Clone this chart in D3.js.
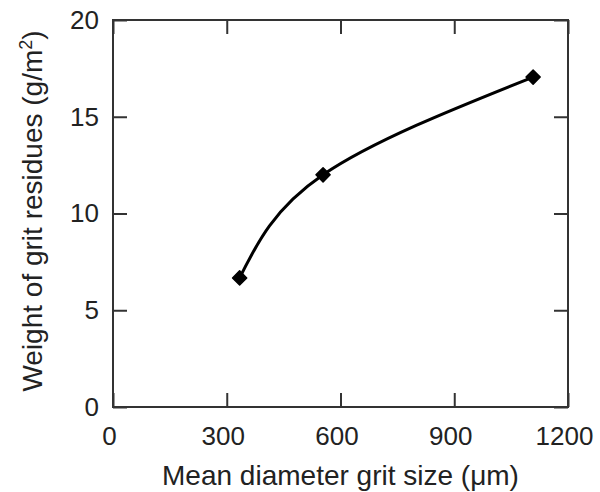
<html>
<head><meta charset="utf-8"/></head>
<script src='https://d3js.org/d3.v7.min.js'></script>
<style>
  body {margin: 0; background: #fff;}
  text {font-family: "Liberation Sans", Arial, sans-serif; fill: #222;}
</style>
<body>
<svg width=600 height=492></svg>
<script>
// grit size (um) vs weight of residues (g/m2)
var gritSize = [334, 554, 1108];
var residue = [6.67, 12.0, 17.05];
var xTicks = [0, 300, 600, 900, 1200];
var yTicks = [0, 5, 10, 15, 20];

var mLeft = 113, mRight = 568, mTop = 20, mBottom = 407;
var svg = d3.select("svg");

var x = d3.scaleLinear().domain([0, 1200]).range([mLeft, mRight]);
var y = d3.scaleLinear().domain([0, 20]).range([mBottom, mTop]);

var tl = 14;
function styleAxis(g) {
  g.select(".domain").remove();
  g.selectAll("line").attr("stroke", "#333").attr("stroke-width", 2);
  g.selectAll("text").style("font-size", "26px").attr("fill", "#222");
}

// bottom
svg.append("g").attr("transform", "translate(0," + mBottom + ")")
  .call(d3.axisBottom(x).tickValues(xTicks).tickSizeInner(-tl).tickSizeOuter(0).tickPadding(20).tickFormat(d3.format("d")))
  .call(styleAxis)
  .selectAll("text").attr("dx", -4);
// top
svg.append("g").attr("transform", "translate(0," + mTop + ")")
  .call(d3.axisTop(x).tickValues(xTicks).tickSizeInner(-tl).tickSizeOuter(0).tickFormat(""))
  .call(styleAxis);
// left
svg.append("g").attr("transform", "translate(" + mLeft + ",0)")
  .call(d3.axisLeft(y).tickValues(yTicks).tickSizeInner(-tl).tickSizeOuter(0).tickPadding(14))
  .call(styleAxis);
// right
svg.append("g").attr("transform", "translate(" + mRight + ",0)")
  .call(d3.axisRight(y).tickValues(yTicks).tickSizeInner(-tl).tickSizeOuter(0).tickFormat(""))
  .call(styleAxis);

// frame
svg.append("rect").attr("x", mLeft).attr("y", mTop)
  .attr("width", mRight - mLeft).attr("height", mBottom - mTop)
  .attr("fill", "none").attr("stroke", "#333").attr("stroke-width", 2);

var pts = gritSize.map(function(d, i) { return [d, residue[i]]; });

var line = d3.line()
  .x(function(d) { return x(d[0]); })
  .y(function(d) { return y(d[1]); })
  .curve(d3.curveNatural);

svg.append("path").datum(pts).attr("d", line)
  .attr("fill", "none").attr("stroke", "#000").attr("stroke-width", 3);

svg.append("g").selectAll("path").data(pts).enter().append("path")
  .attr("d", d3.symbol().type(d3.symbolSquare).size(100))
  .attr("transform", function(d) { return "translate(" + x(d[0]) + "," + y(d[1]) + ") rotate(45)"; })
  .attr("fill", "#000")
  .attr("stroke", "#000").attr("stroke-width", 1.5).attr("stroke-linejoin", "round");

// axis titles
svg.append("text").attr("x", (mLeft + mRight) / 2).attr("y", 485)
  .attr("text-anchor", "middle").style("font-size", "28px")
  .text("Mean diameter grit size (μm)");

var yt = svg.append("text").attr("transform", "translate(42,211) rotate(-90)")
  .attr("text-anchor", "middle").style("font-size", "28px");
yt.append("tspan").text("Weight of grit residues (g/m");
yt.append("tspan").attr("dy", -10).style("font-size", "18px").text("2");
yt.append("tspan").attr("dy", 10).text(")");
</script>
</body>
</html>
